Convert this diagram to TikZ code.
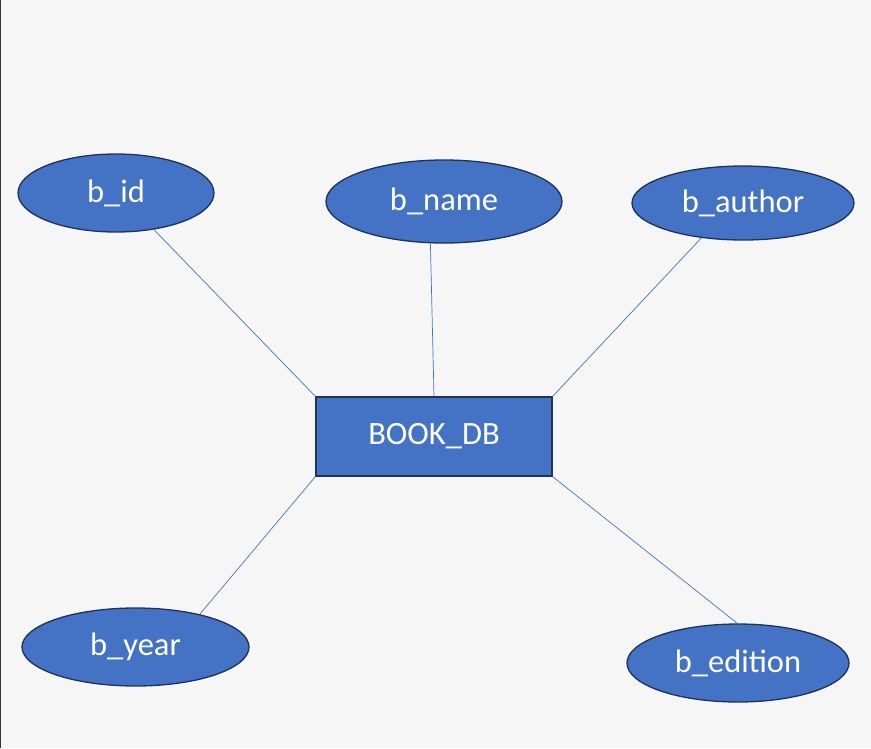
\documentclass[tikz,border=0pt]{standalone}
\usepackage{fontspec}
\setmainfont{Carlito}
\usetikzlibrary{shapes.geometric}
\definecolor{bgc}{RGB}{246,246,247}
\definecolor{fillc}{RGB}{68,114,196}
\definecolor{edgec}{RGB}{30,50,90}
\begin{document}
\begin{tikzpicture}[x=1pt,y=-1pt,
  attr/.style={ellipse,draw=edgec,fill=fillc,line width=1.3pt,inner sep=0pt,text=white,font=\fontsize{32.5}{38}\selectfont},
  entity/.style={rectangle,draw=edgec,fill=fillc,line width=1.3pt,inner sep=0pt,text=white,font=\fontsize{32.5}{38}\selectfont,minimum width=236pt,minimum height=79pt},
  link/.style={draw=fillc,line width=0.7pt}]
\fill[bgc] (0,0) rectangle (871,748);
\useasboundingbox (0,0) rectangle (871,748);
\draw[black!80,line width=1.2pt] (0.6,0) -- (0.6,748);
\node[entity] (book) at (434,436.5) {BOOK\_DB};
\node[attr,minimum width=196pt,minimum height=78pt] (bid) at (116,193) {b\_id};
\node[attr,minimum width=236pt,minimum height=83pt] (bname) at (444,201.5) {b\_name};
\node[attr,minimum width=222pt,minimum height=74pt] (bauthor) at (743,203) {b\_author};
\node[attr,minimum width=227pt,minimum height=78pt] (byear) at (135.5,647) {b\_year};
\node[attr,minimum width=222pt,minimum height=78pt] (bedition) at (738,663) {b\_edition};
\draw[link] (bid.-44.3) -- (book.north west);
\draw[link] (bname.-108.6) -- (book.north);
\draw[link] (bauthor.-140.2) -- (book.north east);
\draw[link] (byear.27.8) -- (book.south west);
\draw[link] (bedition.91.5) -- (book.south east);
\end{tikzpicture}
\end{document}
